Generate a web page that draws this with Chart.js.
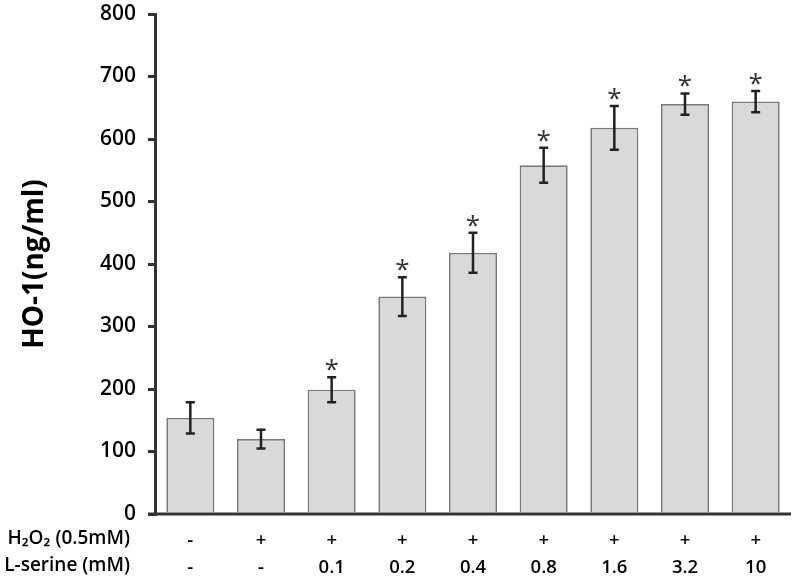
<!DOCTYPE html>
<html><head><meta charset="utf-8">
<script src="https://cdn.jsdelivr.net/npm/chart.js@4"></script>
<style>html,body{margin:0;padding:0;background:#fff}#wrap{width:796px;height:579px}</style>
</head><body><div id="wrap"><canvas id="c" width="796" height="579"></canvas></div>
<script>
const h2o2Labels = ['-', '+', '+', '+', '+', '+', '+', '+', '+'];
const serineLabels = ['-', '-', '0.1', '0.2', '0.4', '0.8', '1.6', '3.2', '10'];
const ho1Values = [154, 120, 199, 348, 418, 558, 618, 656, 660];
const ho1Errors = [25, 15, 20, 31, 32, 28, 35, 17, 17];
const significant = [false, false, true, true, true, true, true, true, true];
const rowTitles = ['H\u2082O\u2082 (0.5mM)', 'L-serine (mM)'];
const yAxisTitle = 'HO-1(ng/ml)';

const FONT = '"Open Sans", Lato, sans-serif';
const categories = h2o2Labels.map((h, i) => [h, serineLabels[i]]);

const extras = {
  id: 'extras',
  afterDatasetsDraw(chart) {
    const ctx = chart.ctx;
    const xs = chart.scales.x, ys = chart.scales.y;
    const area = chart.chartArea;
    ctx.save();
    ctx.strokeStyle = '#222';
    ctx.lineWidth = 2.5;
    ho1Values.forEach((v, i) => {
      const x = xs.getPixelForValue(i);
      const yt = ys.getPixelForValue(v + ho1Errors[i]);
      const yb = ys.getPixelForValue(v - ho1Errors[i]);
      ctx.beginPath();
      ctx.moveTo(x, yt); ctx.lineTo(x, yb);
      ctx.moveTo(x - 4.5, yt); ctx.lineTo(x + 4.5, yt);
      ctx.moveTo(x - 4.5, yb); ctx.lineTo(x + 4.5, yb);
      ctx.stroke();
      if (significant[i]) {
        ctx.fillStyle = '#333';
        ctx.font = '26px ' + FONT;
        ctx.textAlign = 'center';
        ctx.textBaseline = 'alphabetic';
        ctx.fillText('*', x, yt + 1);
      }
    });
    ctx.strokeStyle = '#333';
    ctx.lineWidth = 3;
    ctx.beginPath();
    ctx.moveTo(area.left - 7, area.bottom);
    ctx.lineTo(area.right, area.bottom);
    ctx.stroke();
    ctx.fillStyle = '#000';
    ctx.font = '600 19px ' + FONT;
    ctx.textAlign = 'right';
    ctx.textBaseline = 'middle';
    ctx.fillText(rowTitles[0], 130, area.bottom + 25);
    ctx.fillText(rowTitles[1], 130, area.bottom + 52);
    ctx.restore();
  }
};

new Chart(document.getElementById('c'), {
  type: 'bar',
  data: {
    labels: categories,
    datasets: [{
      data: ho1Values,
      backgroundColor: '#d9d9d9',
      borderColor: '#7a7a7a',
      borderWidth: 1.7,
      categoryPercentage: 1,
      barPercentage: 0.68
    }]
  },
  options: {
    responsive: false,
    devicePixelRatio: 1,
    animation: false,
    layout: { autoPadding: false, padding: { left: 0, right: 5, top: 14, bottom: 0 } },
    plugins: { legend: { display: false }, tooltip: { enabled: false } },
    scales: {
      x: {
        grid: { display: false },
        border: { display: false },
        ticks: {
          color: '#000',
          font: { family: FONT, size: 18.5, weight: '600', lineHeight: 1.46 },
          padding: 5,
          maxRotation: 0,
          autoSkip: false
        },
        afterFit(s) { s.height = 65; s.paddingLeft = 0; s.paddingRight = 0; }
      },
      y: {
        min: 0, max: 800,
        grid: { drawOnChartArea: false, drawTicks: true, tickLength: 7, color: '#333', lineWidth: 3 },
        border: { display: true, color: '#333', width: 3 },
        ticks: {
          stepSize: 100,
          color: '#000',
          padding: 12,
          font: { family: FONT, size: 21, weight: '600' }
        },
        title: {
          display: true,
          text: yAxisTitle,
          color: '#000',
          font: { family: FONT, size: 28, weight: 'bold' },
          padding: { top: 18, bottom: 0 }
        },
        afterFit(s) { s.width = 155; s.paddingTop = 0; s.paddingBottom = 0; }
      }
    }
  },
  plugins: [extras]
});
</script>
</body></html>
